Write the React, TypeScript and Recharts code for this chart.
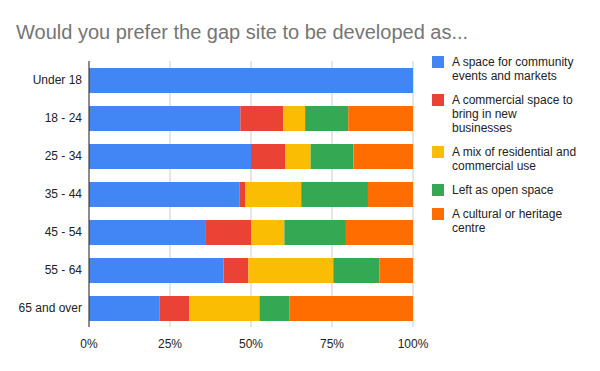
import { BarChart, Bar, XAxis, YAxis, CartesianGrid } from "recharts";

const ageGroups = ["Under 18", "18 - 24", "25 - 34", "35 - 44", "45 - 54", "55 - 64", "65 and over"];
const community = [100, 46.7, 50.0, 46.4, 36.1, 41.5, 21.7];
const commercial = [0, 13.3, 10.5, 1.9, 14.0, 7.7, 9.3];
const mixed = [0, 6.7, 7.9, 17.2, 10.2, 26.2, 21.6];
const openSpace = [0, 13.3, 13.2, 20.6, 19.0, 14.2, 9.2];
const cultural = [0, 20.0, 18.4, 13.9, 20.7, 10.4, 38.2];
const xTicks = [0, 25, 50, 75, 100];

const series = [
  { key: "community", name: "A space for community events and markets", lines: ["A space for community", "events and markets"], color: "#4285f4" },
  { key: "commercial", name: "A commercial space to bring in new businesses", lines: ["A commercial space to", "bring in new", "businesses"], color: "#ea4335" },
  { key: "mixed", name: "A mix of residential and commercial use", lines: ["A mix of residential and", "commercial use"], color: "#fbbc04" },
  { key: "openSpace", name: "Left as open space", lines: ["Left as open space"], color: "#34a853" },
  { key: "cultural", name: "A cultural or heritage centre", lines: ["A cultural or heritage", "centre"], color: "#ff6d01" },
];

const data = ageGroups.map((age, i) => ({
  age,
  community: community[i],
  commercial: commercial[i],
  mixed: mixed[i],
  openSpace: openSpace[i],
  cultural: cultural[i],
}));

const font = "Arial, 'Liberation Sans', sans-serif";

function SideLegend() {
  let y = 55;
  return (
    <div style={{ position: "absolute", left: 432, top: 0, fontFamily: font, fontSize: 12, color: "#222" }}>
      {series.map((s) => {
        const top = y;
        y += s.lines.length * 14 + 10;
        return (
          <div key={s.key} style={{ position: "absolute", top, left: 0, width: 170 }}>
            <div style={{ position: "absolute", left: 0, top: 1, width: 12, height: 12, background: s.color }} />
            <div style={{ position: "absolute", left: 20, top: 0, lineHeight: "14px", whiteSpace: "nowrap" }}>
              {s.lines.map((l) => (
                <div key={l}>{l}</div>
              ))}
            </div>
          </div>
        );
      })}
    </div>
  );
}

export default function App() {
  return (
    <div style={{ position: "absolute", left: 0, top: 0, width: 600, height: 371, background: "#fff", fontFamily: font }}>
      <div style={{ position: "absolute", left: 16, top: 21, fontSize: 20, color: "#757575", whiteSpace: "nowrap" }}>
        Would you prefer the gap site to be developed as...
      </div>
      <BarChart
        width={600}
        height={371}
        data={data}
        layout="vertical"
        stackOffset="expand"
        barSize={25}
        margin={{ top: 61, right: 187, left: 0, bottom: 14 }}
      >
        <CartesianGrid horizontal={false} stroke="#cccccc" ticks={xTicks} />
        <XAxis
          type="number"
          domain={[0, 1]}
          ticks={[0, 0.25, 0.5, 0.75, 1]}
          tickFormatter={(v: number) => `${Math.round(v * 100)}%`}
          axisLine={false}
          tickLine={false}
          tickSize={0}
          tickMargin={12}
          height={30}
          tick={{ fontSize: 12, fill: "#222", fontFamily: font }}
        />
        <YAxis
          type="category"
          dataKey="age"
          width={89}
          tickLine={false}
          tickSize={0}
          tickMargin={7}
          axisLine={{ stroke: "#333" }}
          tick={{ fontSize: 12, fill: "#222", fontFamily: font }}
        />
        {series.map((s) => (
          <Bar key={s.key} dataKey={s.key} name={s.name} stackId="a" fill={s.color} isAnimationActive={false} />
        ))}
      </BarChart>
      <SideLegend />
    </div>
  );
}
